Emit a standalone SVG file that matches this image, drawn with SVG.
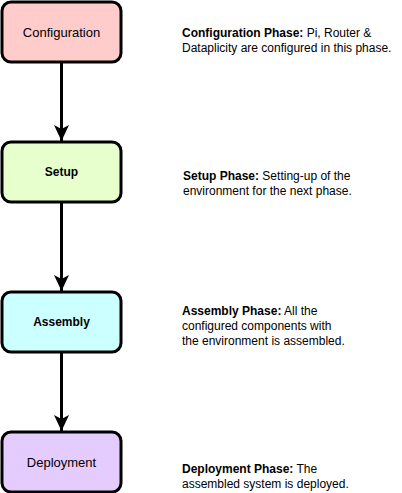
<svg xmlns="http://www.w3.org/2000/svg" width="402" height="493" viewBox="0 0 402 493">
<defs>
<style>
.box{stroke:#000;stroke-width:3}
.lbl{font-family:"Liberation Sans",Arial,sans-serif;font-size:13px;fill:#000;text-anchor:middle}
.b{font-weight:bold;font-size:12px}
.desc{font-family:"Liberation Sans",Arial,sans-serif;font-size:12px;fill:#000}
.edge{stroke:#000;stroke-width:3;fill:none}
</style>
<marker id="ah" markerWidth="16" markerHeight="16" viewBox="0 0 16 16" refX="16" refY="8" orient="auto" markerUnits="userSpaceOnUse">
<path d="M0,0.5 L16,8 L0,15.5 L4,8 Z" fill="#000"/>
</marker>
</defs>
<rect width="402" height="493" fill="#fff"/>
<g id="edges">
<path class="edge" d="M61.5,62 L61.5,141" marker-end="url(#ah)"/>
<path class="edge" d="M61.5,202 L61.5,291" marker-end="url(#ah)"/>
<path class="edge" d="M61.5,352 L61.5,431" marker-end="url(#ah)"/>
</g>
<g id="configuration">
<rect class="box" x="2" y="2" width="119" height="60" rx="9" fill="#ffcccc"/>
<text class="lbl" x="61.5" y="36.5">Configuration</text>
</g>
<g id="setup">
<rect class="box" x="2" y="142" width="119" height="60" rx="9" fill="#e6ffcc"/>
<text class="lbl b" x="61.5" y="176">Setup</text>
</g>
<g id="assembly">
<rect class="box" x="2" y="292" width="119" height="60" rx="9" fill="#ccffff"/>
<text class="lbl b" x="61.5" y="326">Assembly</text>
</g>
<g id="deployment">
<rect class="box" x="2" y="432" width="119" height="60" rx="9" fill="#e5ccff"/>
<text class="lbl" x="61.5" y="466.5">Deployment</text>
</g>
<g id="desc-configuration">
<text class="desc" x="182" y="37"><tspan font-weight="bold">Configuration Phase:</tspan> Pi, Router &amp;</text>
<text class="desc" x="182" y="52">Dataplicity are configured in this phase.</text>
</g>
<g id="desc-setup">
<text class="desc" x="183" y="180"><tspan font-weight="bold">Setup Phase:</tspan> Setting-up of the</text>
<text class="desc" x="183" y="195">environment for the next phase.</text>
</g>
<g id="desc-assembly">
<text class="desc" x="182" y="315"><tspan font-weight="bold">Assembly Phase:</tspan> All the</text>
<text class="desc" x="182" y="330">configured components with</text>
<text class="desc" x="182" y="345">the environment is assembled.</text>
</g>
<g id="desc-deployment">
<text class="desc" x="182" y="473"><tspan font-weight="bold">Deployment Phase:</tspan> The</text>
<text class="desc" x="182" y="488">assembled system is deployed.</text>
</g>
</svg>
